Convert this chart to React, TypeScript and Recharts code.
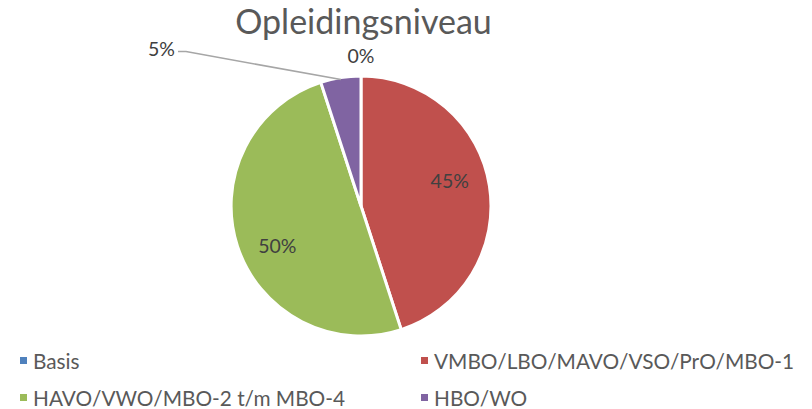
import React from 'react'
import { PieChart, Pie, Cell, Legend } from 'recharts'

const categories = ['Basis', 'VMBO/LBO/MAVO/VSO/PrO/MBO-1', 'HAVO/VWO/MBO-2 t/m MBO-4', 'HBO/WO']
const percentages = [0, 45, 50, 5]
const COLORS = ['#4F81BD', '#C0504D', '#9BBB59', '#8064A2']

const data = categories.map((name, i) => ({ name, value: percentages[i] }))

const FONT = 'Lato, "Open Sans", sans-serif'
const RAD = Math.PI / 180

const polar = (cx: number, cy: number, r: number, angle: number) => ({
  x: cx + r * Math.cos(-angle * RAD),
  y: cy + r * Math.sin(-angle * RAD),
})

// Labels: big slices inside, empty slice above, small slice with leader line
const renderLabel = (props: any) => {
  const { cx, cy, midAngle, outerRadius, value, index } = props
  const text = `${value}%`
  if (value === 0) {
    const p = polar(cx, cy, outerRadius + 21, midAngle)
    return (
      <text key={index} x={p.x} y={p.y} fill="#404040" fontSize={19.5} fontFamily={FONT} textAnchor="middle" dominantBaseline="central">
        {text}
      </text>
    )
  }
  if (value < 10) {
    const s = polar(cx, cy, outerRadius - 2, midAngle)
    const e = { x: s.x - 155, y: s.y - 28 }
    return (
      <g key={index}>
        <polyline points={`${s.x},${s.y} ${e.x},${e.y} ${e.x - 8},${e.y}`} fill="none" stroke="#A6A6A6" strokeWidth={1.5} />
        <text x={e.x - 11} y={e.y - 3} fill="#404040" fontSize={19.5} fontFamily={FONT} textAnchor="end" dominantBaseline="central">
          {text}
        </text>
      </g>
    )
  }
  // nudge inner labels the way the original's best-fit placement does
  const angle = midAngle + (midAngle > 90 ? 4 : 7)
  const p = polar(cx, cy, outerRadius * 0.71, angle)
  return (
    <text key={index} x={p.x} y={p.y} fill="#404040" fontSize={19.5} fontFamily={FONT} textAnchor="middle" dominantBaseline="central">
      {text}
    </text>
  )
}

const LegendContent = () => (
  <div style={{ display: 'grid', gridTemplateColumns: '401px 380px', rowGap: 15, fontFamily: FONT, fontSize: 20.8, color: '#595959' }}>
    {categories.map((name, i) => (
      <div key={name} style={{ display: 'flex', alignItems: 'center', height: 22 }}>
        <span style={{ width: 7, height: 7, background: COLORS[i], marginRight: 6, display: 'inline-block' }} />
        <span>{name}</span>
      </div>
    ))}
  </div>
)

export default function App() {
  return (
    <div style={{ position: 'absolute', left: 0, top: 0, width: 812, height: 409, background: '#fff' }}>
      <div
        style={{
          position: 'absolute',
          top: 0,
          left: 0,
          width: 727,
          textAlign: 'center',
          fontFamily: FONT,
          fontSize: 34,
          color: '#595959',
        }}
      >
        Opleidingsniveau
      </div>
      <PieChart width={812} height={409} margin={{ top: 0, right: 0, bottom: 0, left: 0 }}>
        <Pie
          data={data}
          dataKey="value"
          nameKey="name"
          cx={361}
          cy={206}
          outerRadius={130}
          startAngle={90}
          endAngle={-270}
          stroke="#FFFFFF"
          strokeWidth={3}
          label={renderLabel}
          labelLine={false}
          isAnimationActive={false}
        >
          {data.map((_, i) => (
            <Cell key={`cell-${i}`} fill={COLORS[i]} />
          ))}
        </Pie>
        <Legend
          content={<LegendContent />}
          wrapperStyle={{ position: 'absolute', left: 20, top: 349, width: 790 }}
        />
      </PieChart>
    </div>
  )
}
